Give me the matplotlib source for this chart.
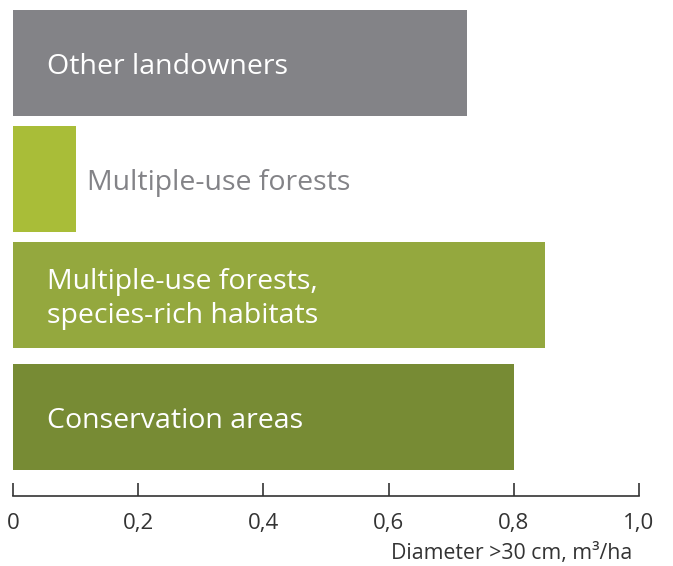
import matplotlib.pyplot as plt

plt.rcParams['font.family'] = ['Open Sans', 'DejaVu Sans']

labels = ["Other landowners", "Multiple-use forests",
          "Multiple-use forests,\nspecies-rich habitats", "Conservation areas"]
values = [0.725, 0.10, 0.85, 0.80]
colors = ["#838387", "#A9BD38", "#94A83E", "#778B34"]
xticks = [0, 0.2, 0.4, 0.6, 0.8, 1.0]
xticklabels = ["0", "0,2", "0,4", "0,6", "0,8", "1,0"]

# bar centres in pixel-like units from the top of the axes
ypos = [63, 179, 295, 417]
bar_h = 106

fig = plt.figure(figsize=(6.73, 5.66), dpi=100)
ax = fig.add_axes([13/673, 70/566, 626/673, 496/566])

ax.barh(ypos, values, height=bar_h, color=colors, left=0)
ax.set_ylim(496, 0)
ax.set_xlim(0, 1.0)

for i in range(len(labels)):
    if values[i] > 0.3:
        ax.text(34/626, ypos[i] + 4, labels[i], color="white", fontsize=20.5,
                va="center", ha="left", linespacing=1.3)
    else:
        ax.text(values[i] + 11/626, ypos[i] + 4, labels[i], color="#838387",
                fontsize=20.5, va="center", ha="left")

for s in ["top", "right", "left"]:
    ax.spines[s].set_visible(False)
ax.spines["bottom"].set_color("#333333")
ax.spines["bottom"].set_linewidth(1.2)
ax.set_yticks([])
ax.set_xticks(xticks)
ax.set_xticklabels(xticklabels, fontsize=16, color="#333333")
ax.tick_params(axis="x", direction="in", length=9.5, width=1.2,
               color="#333333", pad=12)

fig.text(632/673, 1 - 553/566, "Diameter >30 cm, m³/ha", fontsize=15.3,
         color="#333333", ha="right", va="center")

plt.savefig("out.png", dpi=100)
